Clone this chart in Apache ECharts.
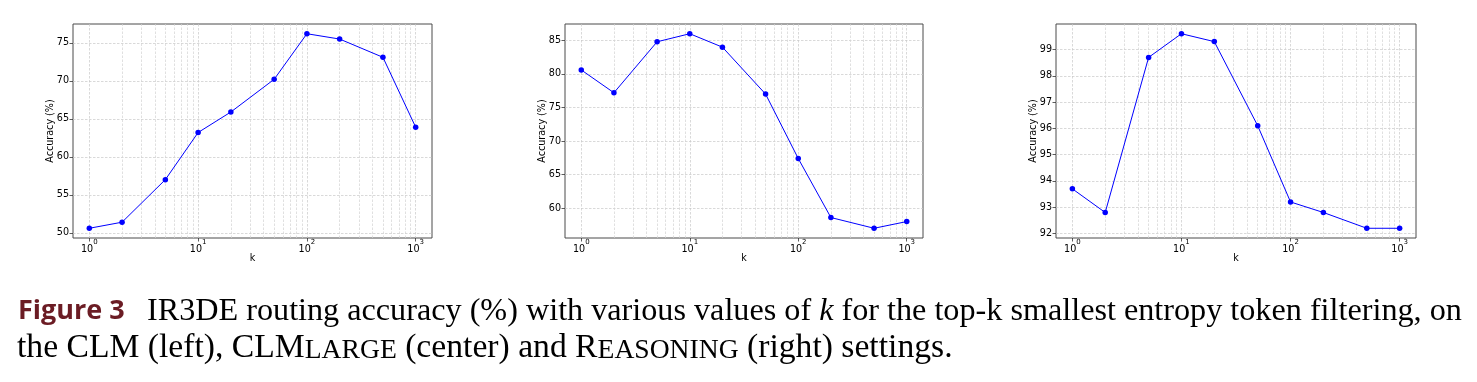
<!DOCTYPE html>
<html><head><meta charset="utf-8">
<script src="https://cdn.jsdelivr.net/npm/echarts@6/dist/echarts.min.js"></script>
<style>html,body{margin:0;padding:0;background:#fff}#c{width:1477px;height:382px}</style>
</head><body><div id="c"></div>
<script>
// ---- data ----
const kValues = [1, 2, 5, 10, 20, 50, 100, 200, 500, 1000];
const accCLM = [50.6, 51.4, 57.0, 63.2, 65.9, 70.2, 76.2, 75.5, 73.1, 63.9];
const accCLMLarge = [80.6, 77.2, 84.8, 86.0, 84.0, 77.0, 67.4, 58.6, 57.0, 58.0];
const accReasoning = [93.7, 92.8, 98.7, 99.6, 99.3, 96.1, 93.2, 92.8, 92.2, 92.2];
const xMajorTicks = [1, 10, 100, 1000];
const xMinorTicks = [2, 3, 4, 5, 6, 7, 8, 9, 20, 30, 40, 50, 60, 70, 80, 90,
  200, 300, 400, 500, 600, 700, 800, 900];
const yTicksCLM = [50, 55, 60, 65, 70, 75];
const yTicksLarge = [60, 65, 70, 75, 80, 85];
const yTicksReasoning = [92, 93, 94, 95, 96, 97, 98, 99];
const xAxisName = 'k';
const yAxisName = 'Accuracy (%)';
const captionFig = 'Figure 3';

// ---- layout ----
const panels = [
  {acc: accCLM, yTicks: yTicksCLM, left: 73, width: 359, split: 5},
  {acc: accCLMLarge, yTicks: yTicksLarge, left: 565, width: 358, split: 6},
  {acc: accReasoning, yTicks: yTicksReasoning, left: 1056, width: 360, split: 8}
];
const TOP = 24, HEIGHT = 214;
const FONT = 'DejaVu Sans';
const FS = 9.6;

const chart = echarts.init(document.getElementById('c'), null, {renderer: 'canvas'});
const grids = [], xAxes = [], yAxes = [], series = [];

panels.forEach((p, i) => {
  const lo = Math.min(...p.acc), hi = Math.max(...p.acc);
  const pad = (hi - lo) * 0.05;
  grids.push({left: p.left, top: TOP, width: p.width, height: HEIGHT,
    show: true, borderColor: '#4a4a4a', borderWidth: 1, backgroundColor: 'transparent'});
  xAxes.push({
    type: 'log', logBase: 10, gridIndex: i,
    min: Math.pow(10, -0.15), max: Math.pow(10, 3.15),
    name: xAxisName, nameLocation: 'middle', nameGap: 15, nameMoveOverlap: false,
    nameTextStyle: {fontFamily: FONT, fontSize: FS, color: '#000'},
    axisLine: {show: false},
    axisTick: {show: true, length: 3.5, inside: false, customValues: xMajorTicks,
      lineStyle: {color: '#333', width: 0.8}},
    axisLabel: {
      show: true, margin: 1, customValues: xMajorTicks,
      formatter: v => {
        const l = Math.log10(v), e = Math.round(l);
        if (Math.abs(l - e) > 1e-6) return '';
        return '{b|10}{s|' + e + '}';
      },
      rich: {
        b: {fontFamily: FONT, fontSize: FS, color: '#000', lineHeight: 15, verticalAlign: 'bottom'},
        s: {fontFamily: FONT, fontSize: 7, color: '#000', lineHeight: 8, verticalAlign: 'top'}
      }
    },
    splitLine: {show: true, lineStyle: {color: '#c8c8c8', width: 0.7, type: [2.5, 1.5]}},
    minorTick: {show: false}
  });
  yAxes.push({
    type: 'value', gridIndex: i, min: lo - pad, max: hi + pad, splitNumber: p.split,
    name: yAxisName, nameLocation: 'middle', nameGap: 18, nameMoveOverlap: false,
    nameTextStyle: {fontFamily: FONT, fontSize: FS, color: '#000'},
    axisLine: {show: false},
    axisTick: {show: true, length: 3.5, inside: false, customValues: p.yTicks,
      lineStyle: {color: '#333', width: 0.8}},
    axisLabel: {show: true, margin: 4, customValues: p.yTicks,
      fontFamily: FONT, fontSize: FS, color: '#000',
      formatter: v => (Math.abs(v - Math.round(v)) < 1e-6 ? String(Math.round(v)) : '')},
    splitLine: {show: true, lineStyle: {color: '#c8c8c8', width: 0.7, type: [2.5, 1.5]}}
  });
  series.push({
    type: 'line', xAxisIndex: i, yAxisIndex: i, data: [], silent: true, z: 1,
    markLine: {silent: true, symbol: ['none', 'none'], label: {show: false},
      animation: false,
      lineStyle: {color: '#d2d2d2', width: 0.7, type: [2.5, 1.5]},
      emphasis: {disabled: true},
      data: xMinorTicks.map(v => ({xAxis: v}))}
  });
  series.push({
    type: 'line', xAxisIndex: i, yAxisIndex: i, z: 5,
    data: kValues.map((k, j) => [k, p.acc[j]]),
    symbol: 'circle', symbolSize: 5.5, showSymbol: true,
    itemStyle: {color: '#0000ff'},
    lineStyle: {color: '#0000ff', width: 1},
    emphasis: {disabled: true}
  });
});

// caption
const SERIF = 'Liberation Serif';
const SC = 0.82;
const line1 = [['r', 'IR3DE routing accuracy (%) with various values of '], ['i', 'k'],
  ['r', ' for the top-k smallest entropy token filtering, on']];
const line2 = [['r', 'the CLM (left), CLM'], ['sc', 'LARGE'], ['r', ' (center) and R'],
  ['sc', 'EASONING'], ['r', ' (right) settings.']];
const cv = document.createElement('canvas').getContext('2d');
function measure(parts) {
  let w = 0;
  parts.forEach(([s, t]) => {
    cv.font = (s === 'i' ? 'italic ' : '') + (s === 'sc' ? 100 * SC : 100) + 'px "' + SERIF + '"';
    w += cv.measureText(t).width;
  });
  return w;
}
function richFor(fs) {
  const sfs = fs * SC;
  return {
    r: {fontFamily: SERIF, fontSize: fs, color: '#000', verticalAlign: 'bottom', lineHeight: fs * 1.2},
    i: {fontFamily: SERIF, fontSize: fs, fontStyle: 'italic', color: '#000', verticalAlign: 'bottom', lineHeight: fs * 1.2},
    sc: {fontFamily: SERIF, fontSize: sfs, color: '#000', verticalAlign: 'bottom', lineHeight: fs * 1.2 - (fs - sfs) * 0.22}
  };
}
const fs1 = 100 * 1315 / measure(line1);
const fs2 = 100 * 936 / measure(line2);
const toRich = parts => parts.map(([s, t]) => '{' + s + '|' + t + '}').join('');

chart.setOption({
  animation: false,
  backgroundColor: '#fff',
  grid: grids, xAxis: xAxes, yAxis: yAxes, series: series,
  graphic: [
    {type: 'text', left: 18, top: 298, style: {text: captionFig,
      font: 'bold 27px "Open Sans"', fill: '#6b1c24'}},
    {type: 'text', left: 147, top: 296, style: {text: toRich(line1), rich: richFor(fs1)}},
    {type: 'text', left: 17, top: 331, style: {text: toRich(line2), rich: richFor(fs2)}}
  ]
});
</script></body></html>
